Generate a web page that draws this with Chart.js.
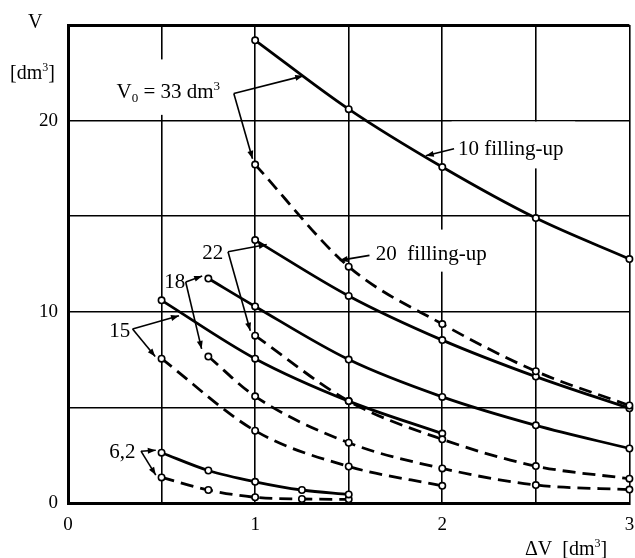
<!DOCTYPE html>
<html>
<head>
<meta charset="utf-8">
<script src="https://cdn.jsdelivr.net/npm/chart.js@4.4.1/dist/chart.umd.min.js"></script>
<style>
  html, body { margin: 0; padding: 0; background: #fff; }
  #wrap { width: 635px; height: 558px; }
</style>
</head>
<body>
<div id="wrap"><canvas id="chart" width="635" height="558"></canvas></div>
<script>
// values (V in dm3 against dV in dm3)
const x5 = [1, 1.5, 2, 2.5, 3];
const x18 = [0.75, 1, 1.5, 2, 2.5, 3];
const x15 = [0.5, 1, 1.5, 2];
const x62 = [0.5, 0.75, 1, 1.25, 1.5];

const v33Ten = [24.2, 20.6, 17.57, 14.9, 12.76];
const v33Twenty = [17.7, 12.36, 9.36, 6.89, 5.1];
const v22Ten = [13.75, 10.83, 8.52, 6.61, 4.95];
const v22Twenty = [8.75, 5.33, 3.33, 1.93, 1.27];
const v18Ten = [11.74, 10.28, 7.5, 5.55, 4.06, 2.85];
const v18Twenty = [7.66, 5.58, 3.15, 1.81, 0.94, 0.7];
const v15Ten = [10.6, 7.55, 5.33, 3.63];
const v15Twenty = [7.55, 3.78, 1.91, 0.9];
const v62Ten = [2.63, 1.7, 1.11, 0.68, 0.45];
const v62Twenty = [1.34, 0.68, 0.3, 0.21, 0.19];

const yTickLabels = { 0: '0', 10: '10', 20: '20' };
const xTickLabels = { 0: '0', 1: '1', 2: '2', 3: '3' };

const SERIF = '"Liberation Serif", "DejaVu Serif", serif';

function pts(xs, ys) {
  return xs.map((x, i) => ({ x: x, y: ys[i] }));
}

function curve(xs, ys, dashed) {
  return {
    data: pts(xs, ys),
    borderColor: '#000',
    borderWidth: 2.8,
    borderDash: dashed ? [13, 7] : [],
    cubicInterpolationMode: 'monotone',
    pointRadius: 3.2,
    pointBorderWidth: 1.6,
    pointBorderColor: '#000',
    pointBackgroundColor: '#fff',
    fill: false,
    clip: false
  };
}

// labels with leader lines, in data units
const notes = [
  { parts: [['V'], ['0', 'sub'], [' = 33 dm'], ['3', 'sup']], x: 0.259, y: 21.2,
    box: [0.23, 0.85, 20.3, 23.2], from: [0.886, 21.42], to: [[1.257, 22.34], [0.986, 18.0]] },
  { parts: [['10 filling-up']], x: 2.084, y: 18.18,
    box: [2.05, 2.71, 17.5, 19.95], from: [2.063, 18.53], to: [[1.912, 18.16]] },
  { parts: [['20  filling-up']], x: 1.645, y: 12.69,
    box: [1.62, 2.3, 12.1, 14.3], from: [1.611, 12.95], to: [[1.452, 12.69]] },
  { parts: [['22']], x: 0.717, y: 12.78, from: [0.855, 13.14], to: [[1.062, 13.52], [0.974, 9.01]] },
  { parts: [['18']], x: 0.514, y: 11.27, from: [0.629, 11.56], to: [[0.717, 11.875], [0.714, 8.06]] },
  { parts: [['15']], x: 0.221, y: 8.66, from: [0.345, 9.1], to: [[0.593, 9.79], [0.466, 7.66]] },
  { parts: [['6,2']], x: 0.221, y: 2.36, from: [0.39, 2.71], to: [[0.469, 2.76], [0.469, 1.46]] }
];

function drawRich(ctx, parts, x, y, size) {
  let cx = x;
  parts.forEach(p => {
    const kind = p[1];
    const s = kind ? Math.round(size * 0.62) : size;
    ctx.font = s + 'px ' + SERIF;
    let dy = 0;
    if (kind === 'sub') dy = size * 0.22;
    if (kind === 'sup') dy = -size * 0.38;
    ctx.fillText(p[0], cx, y + dy);
    cx += ctx.measureText(p[0]).width;
  });
}

function arrowHead(ctx, x0, y0, x1, y1) {
  const a = Math.atan2(y1 - y0, x1 - x0);
  const len = 8, half = 3;
  ctx.beginPath();
  ctx.moveTo(x1, y1);
  ctx.lineTo(x1 - len * Math.cos(a) + half * Math.sin(a), y1 - len * Math.sin(a) - half * Math.cos(a));
  ctx.lineTo(x1 - len * Math.cos(a) - half * Math.sin(a), y1 - len * Math.sin(a) + half * Math.cos(a));
  ctx.closePath();
  ctx.fill();
}

const notesPlugin = {
  id: 'notes',
  beforeDatasetsDraw(chart) {
    // white label backgrounds break the grid lines as in the original
    const { ctx, scales: { x, y } } = chart;
    ctx.save();
    ctx.fillStyle = '#fff';
    notes.forEach(n => {
      if (!n.box) return;
      const l = x.getPixelForValue(n.box[0]), r = x.getPixelForValue(n.box[1]);
      const b = y.getPixelForValue(n.box[2]), t = y.getPixelForValue(n.box[3]);
      ctx.fillRect(l, t, r - l, b - t);
    });
    ctx.restore();
  },
  afterDatasetsDraw(chart) {
    const { ctx, scales: { x, y } } = chart;
    ctx.save();
    ctx.fillStyle = '#000';
    ctx.strokeStyle = '#000';
    ctx.lineWidth = 1.6;
    ctx.textBaseline = 'alphabetic';
    ctx.textAlign = 'left';
    notes.forEach(n => {
      drawRich(ctx, n.parts, x.getPixelForValue(n.x), y.getPixelForValue(n.y), 21);
      const fx = x.getPixelForValue(n.from[0]), fy = y.getPixelForValue(n.from[1]);
      n.to.forEach(t => {
        const tx = x.getPixelForValue(t[0]), ty = y.getPixelForValue(t[1]);
        ctx.beginPath();
        ctx.moveTo(fx, fy);
        ctx.lineTo(tx, ty);
        ctx.stroke();
        arrowHead(ctx, fx, fy, tx, ty);
      });
    });

    // axis titles
    drawRich(ctx, [['V']], 28, 28, 20);
    drawRich(ctx, [['[dm'], ['3', 'sup'], [']']], 10, 79, 20);
    drawRich(ctx, [['\u0394V  [dm'], ['3', 'sup'], [']']], 525, 555, 20);
    ctx.restore();
  }
};

const ctx = document.getElementById('chart').getContext('2d');
new Chart(ctx, {
  type: 'line',
  data: {
    datasets: [
      curve(x5, v33Ten, false),
      curve(x5, v33Twenty, true),
      curve(x5, v22Ten, false),
      curve(x5, v22Twenty, true),
      curve(x18, v18Ten, false),
      curve(x18, v18Twenty, true),
      curve(x15, v15Ten, false),
      curve(x15, v15Twenty, true),
      curve(x62, v62Ten, false),
      curve(x62, v62Twenty, true)
    ]
  },
  options: {
    responsive: false,
    animation: false,
    layout: { padding: { top: 25, right: 2, left: 0, bottom: 0 } },
    plugins: {
      legend: { display: false },
      tooltip: { enabled: false }
    },
    scales: {
      x: {
        type: 'linear',
        min: 0,
        max: 3,
        ticks: {
          stepSize: 0.5,
          color: '#000',
          font: { family: SERIF, size: 19 },
          padding: 11,
          maxRotation: 0,
          autoSkip: false,
          callback: v => xTickLabels[v] || ''
        },
        grid: {
          color: '#000',
          lineWidth: 1.6,
          drawTicks: false
        },
        border: { color: '#000', width: 3 },
        afterFit: s => { s.height = 55; s.paddingLeft = 0; s.paddingRight = 0; }
      },
      y: {
        type: 'linear',
        min: 0,
        max: 25,
        ticks: {
          stepSize: 5,
          color: '#000',
          font: { family: SERIF, size: 19 },
          padding: 10,
          callback: v => yTickLabels[v] || ''
        },
        grid: {
          color: '#000',
          lineWidth: c => (c.tick && c.tick.value === 25 ? 3 : 1.6),
          drawTicks: false
        },
        border: { color: '#000', width: 3 },
        afterFit: s => { s.width = 68; s.paddingTop = 0; s.paddingBottom = 0; }
      }
    }
  },
  plugins: [notesPlugin]
});
</script>
</body>
</html>
